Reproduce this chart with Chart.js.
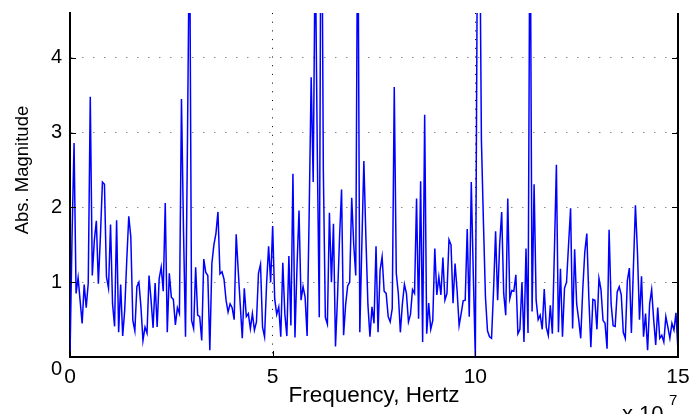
<!DOCTYPE html>
<html>
<head>
<meta charset="utf-8">
<title>Abs. Magnitude</title>
<script src="https://cdn.jsdelivr.net/npm/chart.js@4.4.1/dist/chart.umd.min.js"></script>
<style>
    html, body { margin: 0; padding: 0; background: #fff; }
    #wrap { width: 693px; height: 414px; position: relative; }
</style>
</head>
<body>
<div id="wrap"><canvas id="chart"></canvas></div>
<script>
// frequency in units of 1e7 Hz, one FFT bin every 0.05
const binWidth = 0.05;
const xTicks = [0, 5, 10, 15];
const yTicks = [0, 1, 2, 3, 4];

// |X(f)|, 0 .. 4.95 (x 1e7 Hz)
const magLow = [
    0.00, 1.60, 2.86, 0.85, 1.06, 0.75, 0.45, 0.97, 0.66, 0.99,
    3.48, 1.09, 1.56, 1.82, 0.98, 1.61, 2.34, 2.31, 1.07, 0.92,
    1.77, 0.71, 0.41, 1.83, 0.33, 0.97, 0.28, 0.63, 1.29, 1.88,
    1.61, 0.49, 0.35, 0.94, 1.00, 0.67, 0.22, 0.40, 0.32, 1.09,
    0.76, 0.39, 0.99, 0.40, 1.05, 1.20, 0.88, 2.06, 0.33, 1.12,
    0.80, 0.77, 0.43, 0.66, 0.58, 3.45, 1.70, 0.27, 3.00, 6.00,
    0.49, 0.38, 1.20, 0.56, 0.54, 0.22, 1.31, 1.13, 1.09, 0.09,
    1.25, 1.50, 1.65, 1.94, 1.11, 1.14, 1.04, 0.76, 0.60, 0.71,
    0.66, 0.50, 1.64, 1.16, 0.70, 0.25, 0.92, 0.54, 0.58, 0.38,
    0.58, 0.36, 0.47, 1.12, 1.24, 0.40, 0.27, 0.98, 1.48, 1.00
];
// 5 .. 9.95
const magMid = [
    1.75, 0.78, 0.57, 0.67, 0.27, 1.26, 0.58, 0.28, 1.35, 0.42,
    2.45, 0.26, 1.20, 1.96, 0.76, 0.94, 0.80, 0.28, 1.90, 3.74,
    2.34, 5.60, 2.80, 0.53, 7.50, 2.50, 0.53, 0.44, 1.93, 1.00,
    1.78, 0.14, 0.80, 1.60, 2.24, 0.29, 0.70, 0.95, 1.00, 2.13,
    1.50, 1.09, 6.50, 0.33, 1.50, 2.62, 1.60, 0.70, 0.27, 0.67,
    0.45, 1.48, 0.33, 1.16, 1.34, 0.88, 0.85, 0.54, 0.47, 0.65,
    3.61, 1.12, 0.85, 0.33, 0.71, 0.97, 0.85, 0.47, 0.57, 0.90,
    0.85, 2.12, 0.51, 2.35, 0.20, 3.24, 0.31, 0.72, 0.37, 0.49,
    1.45, 0.83, 1.07, 0.83, 1.33, 0.76, 0.85, 1.57, 1.50, 0.72,
    1.25, 0.89, 0.42, 0.58, 0.75, 0.76, 1.71, 0.54, 2.34, 1.10
];
// 10 .. 15
const magHigh = [
    0.00, 5.50, 6.50, 2.90, 1.80, 0.80, 0.35, 0.27, 0.25, 0.90,
    1.68, 0.76, 1.50, 1.94, 0.85, 0.56, 2.12, 0.78, 0.89, 0.88,
    1.10, 0.31, 0.37, 1.00, 0.20, 1.45, 0.32, 6.50, 0.61, 2.31,
    0.76, 0.50, 0.56, 0.37, 0.91, 0.40, 0.29, 0.69, 0.31, 1.40,
    2.57, 0.33, 1.18, 0.27, 0.92, 1.00, 1.50, 1.99, 0.38, 1.44,
    0.71, 0.50, 0.25, 0.90, 1.40, 1.65, 0.80, 0.13, 0.77, 0.76,
    0.37, 1.05, 0.90, 0.49, 0.45, 0.11, 1.70, 0.71, 0.42, 0.41,
    0.87, 0.94, 0.83, 0.33, 0.25, 1.02, 1.19, 0.32, 1.20, 2.03,
    1.40, 0.50, 1.08, 0.27, 0.58, 0.09, 0.71, 0.90, 0.50, 0.16,
    0.66, 0.25, 0.29, 0.20, 0.54, 0.40, 0.25, 0.45, 0.36, 0.59,
    0.08
];

const magnitude = magLow.concat(magMid, magHigh);
const points = magnitude.map((m, i) => ({ x: i * binWidth, y: m }));

const FONT = '"Liberation Sans", Arial, Helvetica, sans-serif';

// matlab style bits: right box edge, inward ticks, y label, exponent
const matlabAxes = {
    id: 'matlabAxes',
    afterDraw(chart) {
        const ctx = chart.ctx;
        const area = chart.chartArea;
        const xs = chart.scales.x;
        const ys = chart.scales.y;

        ctx.save();
        ctx.strokeStyle = '#000';
        ctx.lineWidth = 2;
        ctx.beginPath();
        ctx.moveTo(area.right, area.top);
        ctx.lineTo(area.right, area.bottom + 1);
        ctx.stroke();

        ctx.lineWidth = 1;
        ctx.beginPath();
        yTicks.forEach(v => {
            const py = Math.round(ys.getPixelForValue(v)) + 0.5;
            ctx.moveTo(area.left, py);
            ctx.lineTo(area.left + 6, py);
            ctx.moveTo(area.right, py);
            ctx.lineTo(area.right - 6, py);
        });
        xTicks.forEach(v => {
            const px = Math.round(xs.getPixelForValue(v)) + 0.5;
            ctx.moveTo(px, area.bottom);
            ctx.lineTo(px, area.bottom - 6);
        });
        ctx.stroke();

        // y label is centred on the full 0..5 axis of the original figure
        ctx.fillStyle = '#000';
        ctx.font = '18.5px ' + FONT;
        ctx.textAlign = 'center';
        ctx.textBaseline = 'middle';
        ctx.translate(23, ys.getPixelForValue(2.5));
        ctx.rotate(-Math.PI / 2);
        ctx.fillText('Abs. Magnitude', 0, 0);
        ctx.restore();

        ctx.save();
        ctx.fillStyle = '#000';
        ctx.textBaseline = 'alphabetic';
        ctx.textAlign = 'left';
        ctx.font = '22px ' + FONT;
        ctx.fillText('x 10', area.right - 56, 421);
        ctx.font = '15px ' + FONT;
        ctx.fillText('7', area.right - 9, 405);
        ctx.restore();
    }
};

new Chart(document.getElementById('chart'), {
    type: 'line',
    data: {
        datasets: [{
            data: points,
            borderColor: '#0000ff',
            borderWidth: 1.5,
            pointRadius: 0,
            tension: 0,
            fill: false
        }]
    },
    options: {
        responsive: true,
        maintainAspectRatio: false,
        animation: false,
        layout: { padding: { top: 13, right: 15, left: 0, bottom: 0 } },
        plugins: {
            legend: { display: false },
            tooltip: { enabled: false }
        },
        scales: {
            x: {
                type: 'linear',
                min: 0,
                max: 15,
                afterBuildTicks: s => { s.ticks = xTicks.map(v => ({ value: v })); },
                afterFit: s => { s.height = 57; s.paddingLeft = 0; s.paddingRight = 0; },
                ticks: {
                    color: '#000',
                    padding: 8,
                    maxRotation: 0,
                    font: { family: FONT, size: 21 }
                },
                grid: {
                    drawTicks: false,
                    lineWidth: 1,
                    color: c => (c.tick && (c.tick.value === 0 || c.tick.value === 15)) ? 'rgba(0,0,0,0)' : '#000'
                },
                border: { display: true, color: '#000', width: 2, dash: [1, 7.7] },
                title: {
                    display: true,
                    text: 'Frequency, Hertz',
                    color: '#000',
                    padding: { top: 0, bottom: 5 },
                    font: { family: FONT, size: 22.5 }
                }
            },
            y: {
                min: 0,
                max: 4.6,
                afterBuildTicks: s => { s.ticks = yTicks.map(v => ({ value: v })); },
                afterFit: s => { s.width = 70; s.paddingTop = 0; s.paddingBottom = 0; },
                ticks: {
                    color: '#000',
                    padding: 8,
                    font: { family: FONT, size: 20 },
                    callback: v => v === 0 ? ['', '0'] : String(v)
                },
                grid: {
                    drawTicks: false,
                    lineWidth: 1,
                    color: c => (c.tick && c.tick.value === 0) ? 'rgba(0,0,0,0)' : '#8a8a8a'
                },
                border: { display: true, color: '#000', width: 2, dash: [1.5, 9.5] }
            }
        }
    },
    plugins: [matlabAxes]
});
</script>
</body>
</html>
